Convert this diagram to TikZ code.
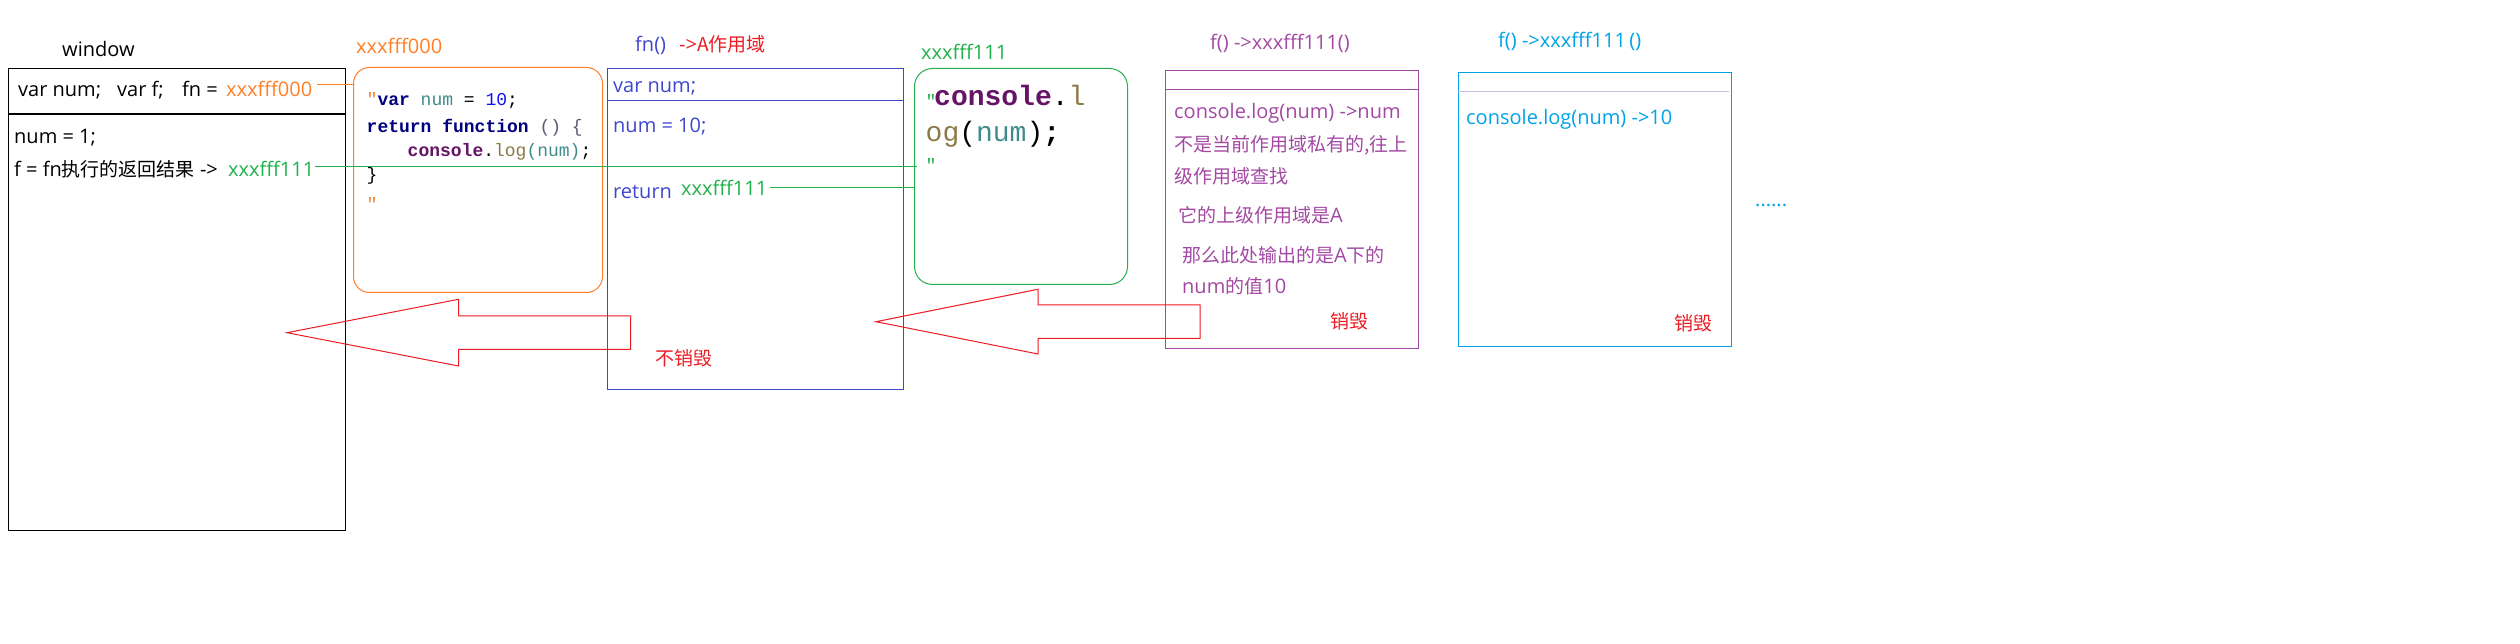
\documentclass[tikz,border=0pt]{standalone}
\usepackage{fontspec}
\setmainfont{Open Sans}
\newfontfamily\cjkfont{Noto Sans CJK SC}
\newfontfamily\codefont{Liberation Mono}[Ligatures=TeXOff]
\newcommand\zhtxt[1]{{\cjkfont\fontsize{19}{22}\selectfont #1}}
\definecolor{porange}{RGB}{255,127,39}
\definecolor{pgreen}{RGB}{34,177,76}
\definecolor{pblue}{RGB}{63,72,204}
\definecolor{pred}{RGB}{237,28,36}
\definecolor{ppurple}{RGB}{163,73,164}
\definecolor{pcyan}{RGB}{0,162,232}
\definecolor{plav}{RGB}{200,191,231}
\definecolor{cnavy}{RGB}{0,0,128}
\definecolor{cteal}{RGB}{64,140,140}
\definecolor{cblue}{RGB}{16,16,240}
\definecolor{cpurp}{RGB}{102,20,102}
\definecolor{colive}{RGB}{140,122,70}
\definecolor{cgray}{RGB}{90,90,120}
\begin{document}
\begin{tikzpicture}[x=1pt,y=-1pt,
  txt/.style={inner sep=0pt,anchor=base west,font=\fontsize{20}{24}\selectfont},
  codesm/.style={inner sep=0pt,anchor=base west,font=\codefont\fontsize{18}{22}\selectfont},
  codebig/.style={inner sep=0pt,anchor=base west,font=\codefont\fontsize{28}{32}\selectfont},
  boxn/.style={draw,inner sep=0pt,anchor=north west,line width=1pt},
  bigarrow/.style={draw=pred,line width=1pt,line join=miter}]
\useasboundingbox (0,0) rectangle (2520,644);
\fill[white] (0,0) rectangle (2520,644);

% ---------- boxes ----------
\node[boxn,draw=black,line width=1.3pt,minimum width=337pt,minimum height=462pt] (win) at (8,68) {};
\draw[black,line width=1.3pt] (win.west |- 0,114) -- (win.east |- 0,114);
\node[boxn,draw=porange,rounded corners=16pt,minimum width=249pt,minimum height=225pt] (obox) at (353,67) {};
\node[boxn,draw=pblue,minimum width=296pt,minimum height=321pt] (fbox) at (607,68) {};
\draw[pblue,line width=1pt] (fbox.west |- 0,101) -- (fbox.east |- 0,101);
\node[boxn,draw=pgreen,rounded corners=18pt,minimum width=213pt,minimum height=216pt] (gbox) at (914,68) {};
\node[boxn,draw=ppurple,minimum width=253pt,minimum height=278pt] (pbox) at (1165,70) {};
\draw[ppurple,line width=1pt] (pbox.west |- 0,90) -- (pbox.east |- 0,90);
\node[boxn,draw=pcyan,minimum width=273pt,minimum height=274pt] (cbox) at (1458,72) {};
\draw[plav,line width=1pt] (cbox.west |- 0,92) -- ([xshift=-3pt]cbox.east |- 0,92);

% ---------- window ----------
\node[txt] (wlabel) at (62,57) {window};
\node[txt] (wv1) at (18,97) {var num;};
\node[txt] (wv2) at (117,97) {var f;};
\node[txt] (wv3) at (182,97) {fn =};
\node[txt,text=porange] (addr0) at (226,97) {xxxfff000};
\node[txt] (wn1) at (14,144) {num = 1;};
\node[txt] (wf) at (14,177) {f = fn\zhtxt{执行的返回结果} ->};
\node[txt,text=pgreen] (f111) at (228,177) {xxxfff111};

% ---------- orange function heap ----------
\node[txt,text=porange] (olabel) at (356,54) {xxxfff000};
\node[codesm] (oc1) at (366.5,106) {{\color{porange}"}{\bfseries\color{cnavy}var} {\color{cteal}num} = {\color{cblue}10};};
\node[codesm] (oc2) at (366.5,133) {{\bfseries\color{cnavy}return function} {\color{cgray}()} {\color{cgray}\{}};
\node[codesm] (oc3) at (407.5,157) {{\bfseries\color{cpurp}console}.{\color{colive}log}{\color{cteal}(num)};};
\node[codesm] (oc4) at (366.5,181) {\}};
\node[codesm,text=porange] (oc5) at (366.5,211) {"};

% ---------- fn scope ----------
\node[txt,text=pblue] (fnlabel) at (635,52) {fn()};
\node[txt,text=pred] (fnA) at (679,52) {->\zhtxt{A作用域}};
\node[txt,text=pblue] (fv) at (613,93) {var num;};
\node[txt,text=pblue] (fn10) at (613,133) {num = 10;};
\node[txt,text=pblue] (fret) at (613,199) {return};
\node[txt,text=pgreen] (ret111) at (681,196) {xxxfff111};
\node[txt,text=pred] (keep) at (655,366) {\zhtxt{不销毁}};

% ---------- green function heap ----------
\node[txt,text=pgreen] (glabel) at (921,60) {xxxfff111};
\node[codesm,text=pgreen] (gq1) at (925.5,108) {"};
\node[codebig] (gc1) at (934,106) {{\bfseries\color{cpurp}console}.{\color{colive}l}};
\node[codebig] (gc2) at (925.5,142) {{\color{colive}og}({\color{cteal}num}){\bfseries;}};
\node[codesm,text=pgreen] (gq2) at (925.5,172) {"};

% ---------- first call f() ----------
\node[txt,text=ppurple] (plabel) at (1210,50) {f() ->xxxfff111()};
\node[txt,text=ppurple] (p1) at (1174,119) {console.log(num) ->num};
\node[txt,text=ppurple] (p2) at (1174,152) {\zhtxt{不是当前作用域私有的,往上}};
\node[txt,text=ppurple] (p3) at (1174,184) {\zhtxt{级作用域查找}};
\node[txt,text=ppurple] (p4) at (1178,223) {\zhtxt{它的上级作用域是}A};
\node[txt,text=ppurple] (p5) at (1182,263) {\zhtxt{那么此处输出的是}A\zhtxt{下的}};
\node[txt,text=ppurple] (p6) at (1182,294) {num\zhtxt{的值}10};
\node[txt,text=pred] (pdel) at (1330,329) {\zhtxt{销毁}};

% ---------- second call f() ----------
\node[txt,text=pcyan] (clabel) at (1498,48) {f() ->xxxfff111\,()};
\node[txt,text=pcyan] (c1) at (1466,125) {console.log(num) ->10};
\node[txt,text=pred] (cdel) at (1674,331) {\zhtxt{销毁}};
\node[txt,text=pcyan] (dots) at (1755,207) {......};

% ---------- connectors ----------
\draw[porange,line width=1pt] ([xshift=5pt]addr0.east |- 0,85) -- (obox.west |- 0,85);
\draw[pgreen,line width=1pt] ([xshift=1pt]f111.east |- 0,167) -- ([xshift=3pt]gbox.west |- 0,167);
\draw[pgreen,line width=1pt] ([xshift=3pt]ret111.east |- 0,188) -- (gbox.west |- 0,188);

% ---------- big hollow arrows ----------
\draw[bigarrow] (287,332.7) -- (458.5,299.3) -- (458.5,316) -- (630.6,316) -- (630.6,349.3) -- (458.5,349.3) -- (458.5,366) -- cycle;
\draw[bigarrow] (876,321.7) -- (1038,289.3) -- (1038,305) -- (1200,305) -- (1200,338.3) -- (1038,338.3) -- (1038,354) -- cycle;
\end{tikzpicture}
\end{document}
